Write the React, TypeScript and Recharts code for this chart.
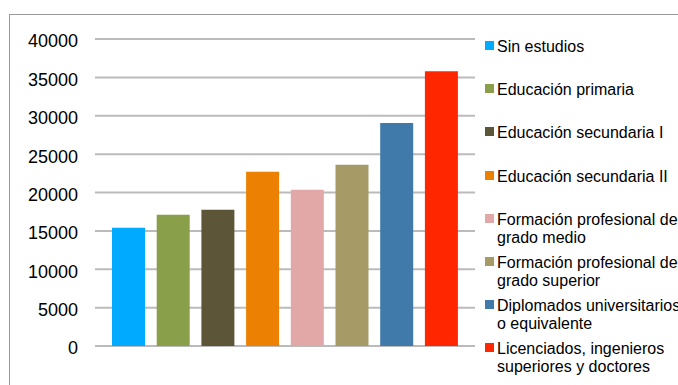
import { BarChart, Bar, XAxis, YAxis, CartesianGrid, Legend } from 'recharts'

const categories = [
  'Sin estudios',
  'Educación primaria',
  'Educación secundaria I',
  'Educación secundaria II',
  'Formación profesional de grado medio',
  'Formación profesional de grado superior',
  'Diplomados universitarios o equivalente',
  'Licenciados, ingenieros superiores y doctores',
]

const salaries = [15400, 17100, 17750, 22700, 20350, 23600, 29050, 35800]

const colors = ['#00ABFF', '#8A9F4A', '#5C5538', '#EC8002', '#E1A8A7', '#A69A66', '#3F7AAB', '#FF2600']

const yTicks = [0, 5000, 10000, 15000, 20000, 25000, 30000, 35000, 40000]

const keys = categories.map((_, i) => `s${i}`)
const chartData = [{ name: 'Salario', ...Object.fromEntries(keys.map((k, i) => [k, salaries[i]])) }]

const font = '"Liberation Sans", Arial, sans-serif'

function LegendList({ payload }: any) {
  // keep the series order, not the alphabetical one
  const items = [...(payload || [])].sort(
    (a: any, b: any) => categories.indexOf(a.value) - categories.indexOf(b.value)
  )
  return (
    <div style={{ fontFamily: font, fontSize: 16, lineHeight: '18px', color: '#000' }}>
      {items.map((entry: any) => (
        <div key={entry.value} style={{ height: 43.2, display: 'flex', alignItems: 'flex-start' }}>
          <span
            style={{
              width: 9,
              height: 9,
              marginTop: 3,
              background: entry.color,
              flex: 'none',
            }}
          />
          <span style={{ marginLeft: 3, width: 186 }}>{entry.value}</span>
        </div>
      ))}
    </div>
  )
}

export default function App() {
  return (
    <div
      style={{
        position: 'absolute',
        left: 0,
        top: 0,
        width: 678,
        height: 385,
        overflow: 'hidden',
        background: '#fff',
        fontFamily: font,
      }}
    >
      <div
        style={{
          position: 'absolute',
          left: 9,
          top: 14,
          width: 720,
          height: 420,
          border: '1.5px solid #999',
        }}
      />
      <div style={{ position: 'absolute', left: 0, top: 0 }}>
        <BarChart
          width={678}
          height={385}
          data={chartData}
          margin={{ top: 39, right: 203, left: 0, bottom: 39 }}
          barCategoryGap={17}
          barGap={11.7}
        >
          <CartesianGrid horizontal vertical={false} stroke="#BBBBBB" strokeWidth={2} />
          <XAxis
            dataKey="name"
            tick={false}
            tickLine={false}
            height={0}
            axisLine={{ stroke: '#000', strokeWidth: 2.5 }}
          />
          <YAxis
            width={95}
            domain={[0, 40000]}
            ticks={yTicks}
            interval={0}
            axisLine={false}
            tickLine={false}
            tickSize={0}
            tickMargin={17}
            tick={{ fill: '#000', fontSize: 18, fontFamily: font, dy: 2 }}
          />
          <Legend
            layout="horizontal"
            verticalAlign="middle"
            align="center"
            itemSorter={null}
            content={LegendList}
            wrapperStyle={{ left: 485, top: 38, width: 200 }}
          />
          {keys.map((k, i) => (
            <Bar key={k} dataKey={k} name={categories[i]} fill={colors[i]} isAnimationActive={false} />
          ))}
        </BarChart>
      </div>
    </div>
  )
}
